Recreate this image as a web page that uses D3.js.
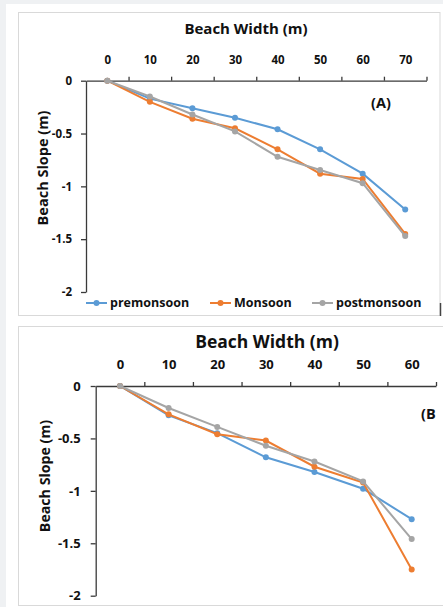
<!DOCTYPE html>
<html>
<head>
<meta charset="utf-8">
<script src="https://cdn.jsdelivr.net/npm/d3@7"></script>
<style>
  body { margin: 0; background: #eff1f3; }
  svg { display: block; }
  text { font-family: "Open Sans", Lato, sans-serif; font-weight: bold; fill: #111; }
  .axis path, .axis line { stroke: #3a3a3a; stroke-width: 1.3; }
</style>
</head>
<body>
<div id="chart"></div>
<script>
// chart (A)
const widthsA = [0, 10, 20, 30, 40, 50, 60, 70];
const preA  = [0, -0.17, -0.26, -0.35, -0.46, -0.65, -0.88, -1.22];
const monA  = [0, -0.20, -0.36, -0.45, -0.65, -0.88, -0.93, -1.45];
const postA = [0, -0.15, -0.32, -0.48, -0.72, -0.845, -0.97, -1.47];

// chart (B)
const widthsB = [0, 10, 20, 30, 40, 50, 60];
const preB  = [0, -0.28, -0.45, -0.68, -0.82, -0.98, -1.27];
const monB  = [0, -0.27, -0.46, -0.52, -0.77, -0.92, -1.75];
const postB = [0, -0.21, -0.39, -0.57, -0.72, -0.91, -1.46];

const seriesNames = ["premonsoon", "Monsoon", "postmonsoon"];
const colors = ["#5b9bd5", "#ed7d31", "#a5a5a5"];
const yTicks = [0, -0.5, -1, -1.5, -2];

const W = 443, H = 607;
const svg = d3.select("#chart").append("svg")
    .attr("width", W)
    .attr("height", H);

// white card + chart panels
svg.append("rect").attr("x", 6).attr("y", 4).attr("width", W).attr("height", H)
   .attr("fill", "#fff");
svg.append("rect").attr("x", 18.5).attr("y", 12.5).attr("width", 421.5).attr("height", 303)
   .attr("fill", "#fff").attr("stroke", "#d9d9d9");
svg.append("rect").attr("x", 18.5).attr("y", 326.5).attr("width", 430).attr("height", 279)
   .attr("fill", "#fff").attr("stroke", "#d9d9d9");
svg.append("line").attr("x1", 440.5).attr("x2", 440.5).attr("y1", 303).attr("y2", 316)
   .attr("stroke", "#444").attr("stroke-width", 1.5);

function drawChart(c) {
  const g = svg.append("g");
  const x = d3.scaleLinear().domain(c.xDomain).range([c.left, c.right]);
  const y = d3.scaleLinear().domain([0, -2]).range([c.top, c.bottom]);

  // x axis along y = 0, tick marks between labels
  const minor = d3.range(c.xDomain[0] + 10, c.xDomain[1] + 1, 10);
  g.append("g").attr("class", "axis")
   .attr("transform", `translate(0,${y(0)})`)
   .call(d3.axisTop(x).tickValues(minor).tickSize(4).tickSizeOuter(0).tickFormat(""));
  g.append("g").attr("class", "axis")
   .attr("transform", `translate(0,${y(0) - c.xLabelGap})`)
   .call(d3.axisTop(x).tickValues(c.widths).tickSize(0).tickPadding(0))
   .call(s => s.select(".domain").remove())
   .selectAll("text").style("font-size", c.tickFont + "px");

  g.append("g").attr("class", "axis")
   .attr("transform", `translate(${x(c.xDomain[0])},0)`)
   .call(d3.axisLeft(y).tickValues(yTicks).tickSize(5).tickSizeOuter(0).tickPadding(c.yPad)
         .tickFormat(d => String(d)))
   .selectAll("text").style("font-size", c.tickFont + "px");

  // titles
  g.append("text")
   .attr("x", c.titleX).attr("y", c.titleY)
   .attr("text-anchor", "middle")
   .style("font-size", c.titleFont + "px")
   .text("Beach Width (m)");
  g.append("text")
   .attr("transform", `translate(${c.yLabelX},${c.yLabelY}) rotate(-90)`)
   .attr("text-anchor", "middle")
   .style("font-size", c.yLabelFont + "px")
   .text("Beach Slope (m)");
  g.append("text")
   .attr("x", c.tagX).attr("y", c.tagY)
   .style("font-size", c.tagFont + "px")
   .text(c.tag);

  const line = d3.line().x(d => x(d[0])).y(d => y(d[1]));
  c.series.forEach((vals, i) => {
    const pts = c.widths.map((w, j) => [w, vals[j]]);
    g.append("path").datum(pts)
     .attr("d", line)
     .attr("fill", "none")
     .attr("stroke", colors[i])
     .attr("stroke-width", 2);
    g.selectAll(null).data(pts).enter().append("circle")
     .attr("cx", d => x(d[0])).attr("cy", d => y(d[1]))
     .attr("r", 3)
     .attr("fill", colors[i]);
  });
}

drawChart({
  widths: widthsA, series: [preA, monA, postA],
  xDomain: [-5, 75], left: 86, right: 426.5, top: 80.7, bottom: 292,
  xLabelGap: 17, tickFont: 11.5, yPad: 9,
  titleX: 246, titleY: 33.5, titleFont: 15,
  yLabelX: 48, yLabelY: 168, yLabelFont: 14.5,
  tag: "(A)", tagX: 371, tagY: 108, tagFont: 14.5
});

drawChart({
  widths: widthsB, series: [preB, monB, postB],
  xDomain: [-5, 65], left: 95.7, right: 436, top: 386, bottom: 595.7,
  xLabelGap: 17, tickFont: 13, yPad: 10,
  titleX: 267, titleY: 348, titleFont: 17.5,
  yLabelX: 50, yLabelY: 476, yLabelFont: 14.2,
  tag: "(B", tagX: 421, tagY: 419, tagFont: 14.5
});

// legend for (A)
const legendX = [86, 210, 312];
const legend = svg.append("g").attr("transform", "translate(0,303)");
seriesNames.forEach((name, i) => {
  const lg = legend.append("g").attr("transform", `translate(${legendX[i]},0)`);
  lg.append("line").attr("x1", 0).attr("x2", 21).attr("stroke", colors[i]).attr("stroke-width", 2);
  lg.append("circle").attr("cx", 10.5).attr("r", 3).attr("fill", colors[i]);
  lg.append("text").attr("x", 24).attr("dy", "0.35em").style("font-size", "12.5px").text(name);
});
</script>
</body>
</html>
